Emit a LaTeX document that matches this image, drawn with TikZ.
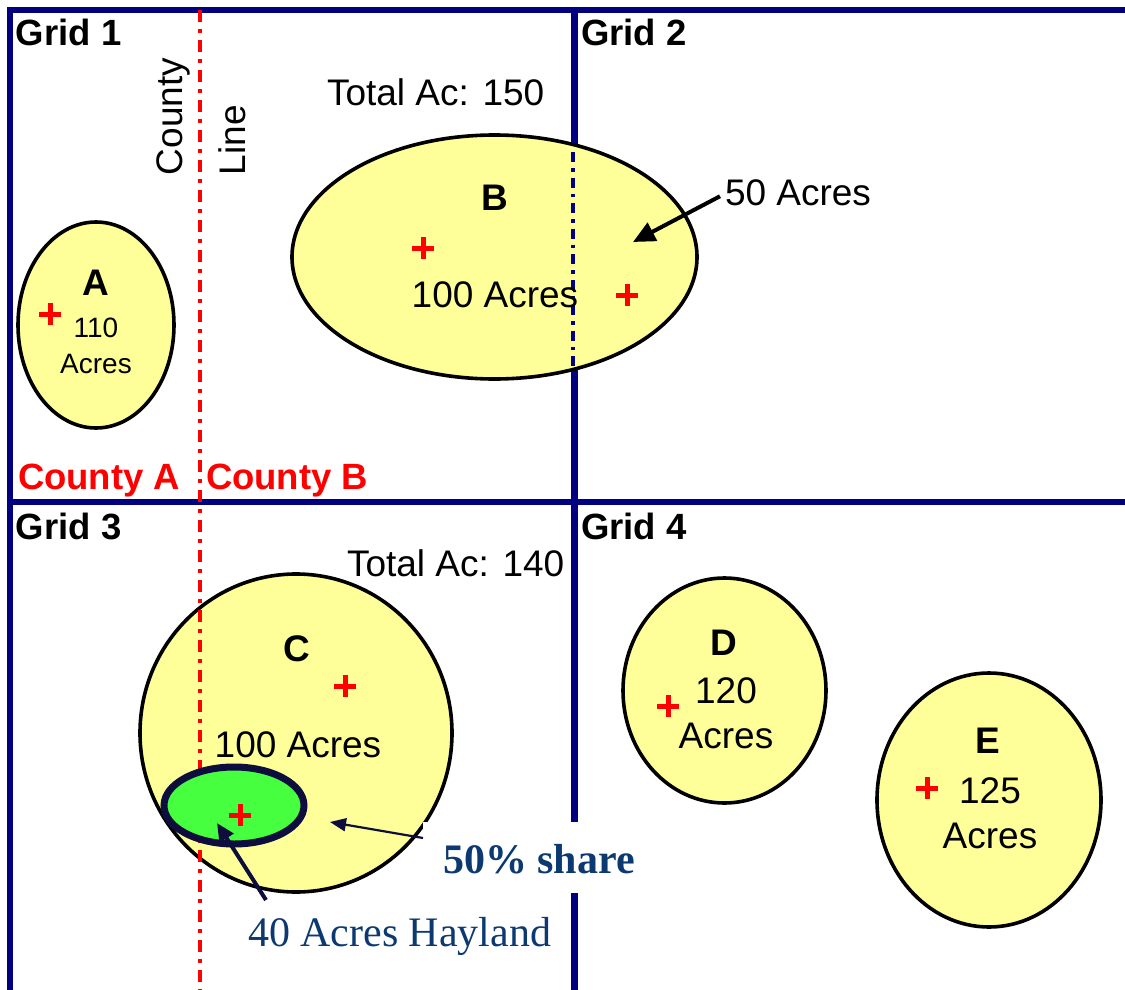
\documentclass[tikz,border=0pt]{standalone}
\usepackage{fontspec}
\setmainfont{Liberation Sans}
\newfontfamily\tnr{Liberation Serif}
\usetikzlibrary{arrows.meta,shapes.geometric}
\definecolor{gridnavy}{RGB}{0,0,128}
\definecolor{fieldyellow}{RGB}{255,255,153}
\definecolor{haygreen}{RGB}{70,255,62}
\definecolor{darknavy}{RGB}{14,14,62}
\definecolor{sharecol}{RGB}{12,58,112}
\begin{document}
\begin{tikzpicture}[x=1pt,y=-1pt,
  gridline/.style={draw=gridnavy,line width=6.5pt},
  field/.style={ellipse,draw=black,fill=fieldyellow,line width=3.6pt,inner sep=0pt,outer sep=0pt},
  hay/.style={ellipse,draw=darknavy,fill=haygreen,line width=7pt,inner sep=0pt,outer sep=0pt},
  lbl/.style={font=\fontsize{37}{44}\selectfont,inner sep=0pt,outer sep=0pt,anchor=base},
  smlbl/.style={font=\fontsize{28}{34}\selectfont,inner sep=0pt,outer sep=0pt,anchor=base},
  fieldname/.style={font=\fontsize{37}{44}\selectfont\bfseries,inner sep=0pt,outer sep=0pt,anchor=base},
  gridlbl/.style={font=\fontsize{36.5}{43}\selectfont\bfseries,inner sep=0pt,outer sep=0pt,anchor=base west},
  countylbl/.style={font=\fontsize{36.5}{43}\selectfont\bfseries,text=red,inner sep=0pt,outer sep=0pt,anchor=base west},
  serlbl/.style={font=\fontsize{42}{50}\selectfont\tnr,text=sharecol,inner sep=0pt,outer sep=0pt,anchor=base west},
  countyline/.style={draw=red,line width=4pt,dash pattern=on 12pt off 7pt on 4pt off 7pt},
  splitline/.style={draw=gridnavy,line width=3.6pt,dash pattern=on 10pt off 6pt on 3.5pt off 6pt},
  bigarrow/.style={draw=black,line width=4pt,-{Triangle[length=22pt,width=20pt]}},
  thinarrow/.style={draw=darknavy,line width=2.2pt,-{Triangle[length=16pt,width=13pt]}},
  hayarrow/.style={draw=darknavy,line width=4pt,-{Triangle[length=18pt,width=16pt]}},
  plusmark/.pic={\draw[red,line width=5pt] (-11,0) -- (11,0) (0,-11) -- (0,11);}
]
\useasboundingbox (0,0) rectangle (1125,990);
\fill[white] (0,0) rectangle (1125,990);

% grid frame
\coordinate (tl) at (10,10);
\coordinate (tr) at (1125,10);
\coordinate (bl) at (10,990);
\coordinate (mt) at (574.5,10);
\coordinate (mb) at (574.5,990);
\coordinate (ml) at (10,502);
\coordinate (mr) at (1125,502);
\draw[gridline] (tr) -- (tl) -- (bl);
\draw[gridline] (mt) -- (mb);
\draw[gridline] (ml) -- (mr);

% fields
\node[field,minimum width=156pt,minimum height=206pt] (A) at (96,325) {};
\node[field,minimum width=405pt,minimum height=244pt] (B) at (494.5,257) {};
\node[field,minimum width=312pt,minimum height=318pt] (C) at (296,733) {};
\node[field,minimum width=203pt,minimum height=225pt] (D) at (724.5,690.5) {};
\node[field,minimum width=224pt,minimum height=254pt] (E) at (989,800) {};

% split line inside B
\coordinate (bs1) at (573,152);
\coordinate (bs2) at (573,370);
\draw[splitline] (bs1) -- (bs2);

% county line
\coordinate (cl1) at (200,10);
\coordinate (cl2) at (200,990);
\draw[countyline] (cl1) -- (cl2);

% hayland
\node[hay,minimum width=140pt,minimum height=77pt] (H) at (234,805.5) {};

% centroids
\pic at (50,314) {plusmark};
\pic at (423,248) {plusmark};
\pic at (627,295) {plusmark};
\pic at (345,686) {plusmark};
\pic at (240,815) {plusmark};
\pic at (668,706) {plusmark};
\pic at (927,788) {plusmark};

% grid labels
\node[gridlbl] (g1) at (16,46) {Grid 1};
\node[gridlbl] (g2) at (581,46) {Grid 2};
\node[gridlbl] (g3) at (16,539) {Grid 3};
\node[gridlbl] (g4) at (581,539) {Grid 4};

% county labels
\node[countylbl] (ca) at (18,489) {County A};
\node[countylbl] (cb) at (206,489) {County B};
\node[lbl,rotate=90,anchor=base west] (cty) at (182,175) {County};
\node[lbl,rotate=90,anchor=base west] (lin) at (245,175) {Line};

% field A
\node[fieldname] (Aname) at (96,295) {A};
\node[smlbl] (Aac1) at (96,337) {110};
\node[smlbl] (Aac2) at (96,373) {Acres};

% field B
\node[lbl,anchor=base west] (Btot) at (327,106) {Total Ac: 150};
\node[fieldname] (Bname) at (495,210) {B};
\node[lbl] (Bac) at (495,307) {100 Acres};
\node[lbl,anchor=base west] (B50) at (725,205) {50 Acres};
\coordinate (B50tip) at (633,242);
\draw[bigarrow] ([shift={(-5,4)}]B50.west) -- (B50tip);

% field C
\node[lbl,anchor=base west] (Ctot) at (347,576) {Total Ac: 140};
\node[fieldname] (Cname) at (297,661) {C};
\node[lbl] (Cac) at (298,757) {100 Acres};

% field D
\node[fieldname] (Dname) at (724,655) {D};
\node[lbl] (Dac1) at (726,703) {120};
\node[lbl] (Dac2) at (726,748) {Acres};

% field E
\node[fieldname] (Ename) at (988,753) {E};
\node[lbl] (Eac1) at (990,803) {125};
\node[lbl] (Eac2) at (990,848) {Acres};

% share label and arrows
\node[serlbl,font=\fontsize{42}{50}\selectfont\tnr\bfseries,fill=white,inner xsep=20pt,inner ysep=0pt,text height=51pt,text depth=20pt] (share) at (423,873) {50\% share};
\coordinate (sharetip) at (330,822);
\draw[thinarrow] ([yshift=19.5pt]share.west) -- (sharetip);
\node[serlbl] (hayl) at (248,946) {40 Acres Hayland};
\coordinate (haytail) at (266,900);
\coordinate (haytip) at (217,823);
\draw[hayarrow] (haytail) -- (haytip);
\end{tikzpicture}
\end{document}
